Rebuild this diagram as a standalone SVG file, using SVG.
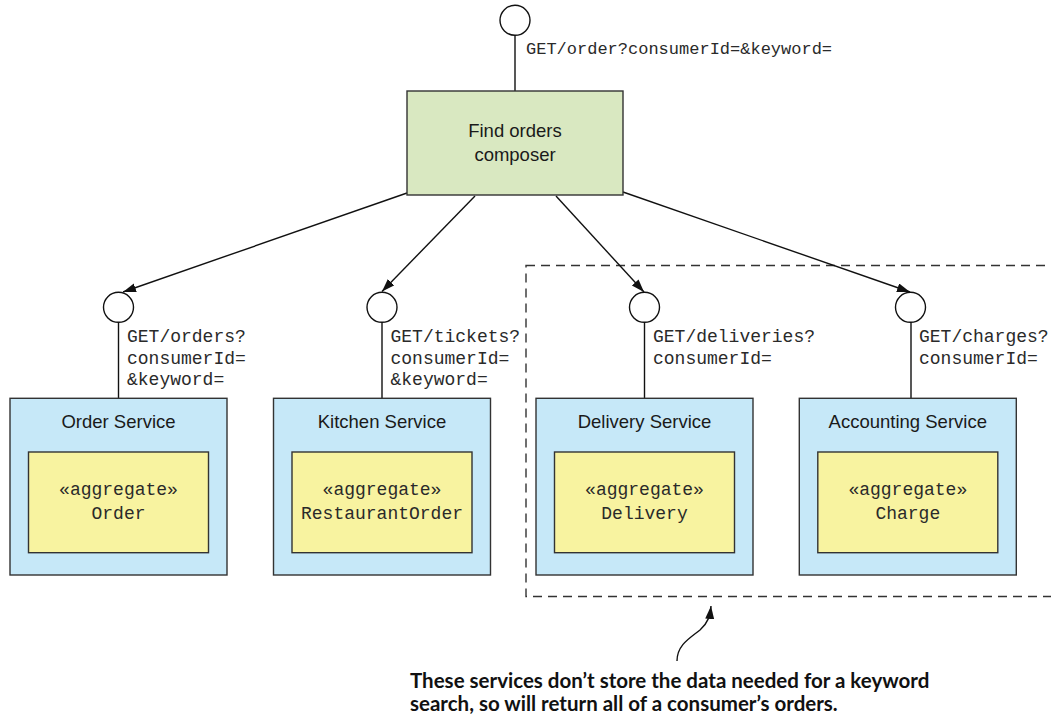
<svg xmlns="http://www.w3.org/2000/svg" width="1051" height="714" viewBox="0 0 1051 714">
<defs>
<style>
.box{stroke:#333;stroke-width:1.4}
.svc{fill:#c6e8f8}
.agg{fill:#f8f3a0}
.comp{fill:#d9e8c1}
.port{fill:#fff;stroke:#111;stroke-width:1.4}
.ln{stroke:#111;stroke-width:1.4;fill:none}
.title{font-family:"Liberation Sans",Arial,sans-serif;font-size:18.5px;fill:#1a1a1a;text-anchor:middle}
.mono{font-family:"Liberation Mono","Courier New",monospace;font-size:18px;fill:#2a2a2a}
.monoc{font-family:"Liberation Mono","Courier New",monospace;font-size:18px;fill:#2a2a2a;text-anchor:middle}
.note{font-family:Lato,"Open Sans",sans-serif;font-weight:bold;font-size:20.5px;fill:#111}
</style>
<marker id="ah" markerUnits="userSpaceOnUse" markerWidth="14" markerHeight="10" refX="13" refY="4.5" orient="auto">
<path d="M0,0 L13,4.5 L0,9 z" fill="#111"/>
</marker>
</defs>

<g id="boundary">
<rect x="526" y="265.5" width="540" height="331" fill="none" stroke="#333" stroke-width="1.4" stroke-dasharray="9,6"/>
</g>

<g id="connectors">
<line class="ln" x1="515" y1="35" x2="515" y2="91"/>
<line class="ln" x1="118.5" y1="322" x2="118.5" y2="398"/>
<line class="ln" x1="382" y1="322" x2="382" y2="398"/>
<line class="ln" x1="644.5" y1="322" x2="644.5" y2="398"/>
<line class="ln" x1="911" y1="322" x2="911" y2="398"/>
<line class="ln" x1="407" y1="193" x2="123" y2="292" marker-end="url(#ah)"/>
<line class="ln" x1="475" y1="196" x2="382" y2="291.5" marker-end="url(#ah)"/>
<line class="ln" x1="556" y1="196" x2="644" y2="292" marker-end="url(#ah)"/>
<line class="ln" x1="623" y1="192" x2="910" y2="292" marker-end="url(#ah)"/>
<path class="ln" d="M677,661 C677,645 690,638 700,630 C708,623 710,616 711,606" marker-end="url(#ah)"/>
</g>

<g id="api-top">
<circle class="port" cx="515" cy="20.3" r="15"/>
<text class="mono" style="font-size:17px" x="526" y="54">GET/order?consumerId=&amp;keyword=</text>
</g>

<g id="composer">
<rect class="box comp" x="407" y="91" width="216" height="104"/>
<text class="title" x="515" y="137">Find orders</text>
<text class="title" x="515" y="161">composer</text>
</g>

<g id="api-orders">
<circle class="port" cx="118.5" cy="307.3" r="15"/>
<text class="mono" x="127" y="342">GET/orders?</text>
<text class="mono" x="127" y="363.5">consumerId=</text>
<text class="mono" x="127" y="385">&amp;keyword=</text>
</g>
<g id="api-tickets">
<circle class="port" cx="382" cy="307.3" r="15"/>
<text class="mono" x="390.5" y="342">GET/tickets?</text>
<text class="mono" x="390.5" y="363.5">consumerId=</text>
<text class="mono" x="390.5" y="385">&amp;keyword=</text>
</g>
<g id="api-deliveries">
<circle class="port" cx="644.5" cy="307.3" r="15"/>
<text class="mono" x="653" y="342">GET/deliveries?</text>
<text class="mono" x="653" y="363.5">consumerId=</text>
</g>
<g id="api-charges">
<circle class="port" cx="910.5" cy="307.3" r="15"/>
<text class="mono" x="919" y="342">GET/charges?</text>
<text class="mono" x="919" y="363.5">consumerId=</text>
</g>

<g id="order-service">
<rect class="box svc" x="10" y="398.3" width="217" height="176.7"/>
<text class="title" x="118.5" y="428">Order Service</text>
<rect class="box agg" x="28.5" y="452" width="180" height="100.7"/>
<text class="monoc" x="118.5" y="494.5">«aggregate»</text>
<text class="monoc" x="118.5" y="518.7">Order</text>
</g>
<g id="kitchen-service">
<rect class="box svc" x="273.5" y="398.3" width="217" height="176.7"/>
<text class="title" x="382" y="428">Kitchen Service</text>
<rect class="box agg" x="292" y="452" width="180" height="100.7"/>
<text class="monoc" x="382" y="494.5">«aggregate»</text>
<text class="monoc" x="382" y="518.7">RestaurantOrder</text>
</g>
<g id="delivery-service">
<rect class="box svc" x="536" y="398.3" width="217" height="176.7"/>
<text class="title" x="644.5" y="428">Delivery Service</text>
<rect class="box agg" x="554.5" y="452" width="180" height="100.7"/>
<text class="monoc" x="644.5" y="494.5">«aggregate»</text>
<text class="monoc" x="644.5" y="518.7">Delivery</text>
</g>
<g id="accounting-service">
<rect class="box svc" x="799.3" y="398.3" width="217" height="176.7"/>
<text class="title" x="907.8" y="428">Accounting Service</text>
<rect class="box agg" x="817.8" y="452" width="180" height="100.7"/>
<text class="monoc" x="907.8" y="494.5">«aggregate»</text>
<text class="monoc" x="907.8" y="518.7">Charge</text>
</g>

<g id="note">
<text class="note" x="410" y="688">These services don’t store the data needed for a keyword</text>
<text class="note" x="410" y="711">search, so will return all of a consumer’s orders.</text>
</g>
</svg>
